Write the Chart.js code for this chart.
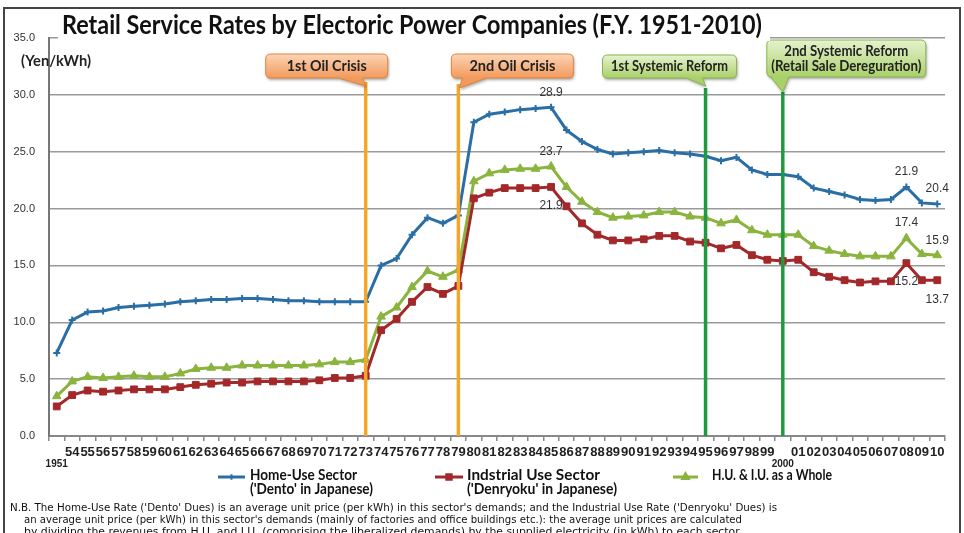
<!DOCTYPE html>
<html>
<head>
<meta charset="utf-8">
<script src="https://cdn.jsdelivr.net/npm/chart.js@4.4.0/dist/chart.umd.min.js"></script>
<style>
  html, body { margin: 0; padding: 0; background: #fff; }
  #wrap { width: 964px; height: 533px; position: relative; overflow: hidden; }
</style>
</head>
<body>
<div id="wrap"><canvas id="chart" width="964" height="533"></canvas></div>
<script>
// fiscal years shown on the axis (1952 and 1953 are not in the source)
const YEARS = [1951, 1954, 1955, 1956, 1957, 1958, 1959, 1960, 1961, 1962, 1963, 1964, 1965, 1966,
  1967, 1968, 1969, 1970, 1971, 1972, 1973, 1974, 1975, 1976, 1977, 1978, 1979, 1980, 1981, 1982,
  1983, 1984, 1985, 1986, 1987, 1988, 1989, 1990, 1991, 1992, 1993, 1994, 1995, 1996, 1997, 1998,
  1999, 2000, 2001, 2002, 2003, 2004, 2005, 2006, 2007, 2008, 2009, 2010];

// Yen/kWh
const HOME_USE = [7.3, 10.2, 10.9, 11.0, 11.3, 11.4, 11.5, 11.6, 11.8, 11.9, 12.0, 12.0, 12.1, 12.1,
  12.0, 11.9, 11.9, 11.8, 11.8, 11.8, 11.8, 15.0, 15.6, 17.7, 19.2, 18.7, 19.4, 27.6, 28.3, 28.5,
  28.7, 28.8, 28.9, 26.9, 25.9, 25.2, 24.8, 24.9, 25.0, 25.1, 24.9, 24.8, 24.6, 24.2, 24.5, 23.4,
  23.0, 23.0, 22.8, 21.8, 21.5, 21.2, 20.8, 20.7, 20.8, 21.9, 20.5, 20.4];
const INDUSTRIAL = [2.6, 3.6, 4.0, 3.9, 4.0, 4.1, 4.1, 4.1, 4.3, 4.5, 4.6, 4.7, 4.7, 4.8,
  4.8, 4.8, 4.8, 4.9, 5.1, 5.1, 5.3, 9.3, 10.3, 11.8, 13.1, 12.5, 13.2, 20.9, 21.4, 21.8,
  21.8, 21.8, 21.9, 20.2, 18.7, 17.7, 17.2, 17.2, 17.3, 17.6, 17.6, 17.1, 17.0, 16.5, 16.8, 15.9,
  15.5, 15.4, 15.5, 14.4, 14.0, 13.7, 13.5, 13.6, 13.6, 15.2, 13.7, 13.7];
const WHOLE = [3.5, 4.8, 5.2, 5.1, 5.2, 5.3, 5.2, 5.2, 5.5, 5.9, 6.0, 6.0, 6.2, 6.2,
  6.2, 6.2, 6.2, 6.3, 6.5, 6.5, 6.7, 10.5, 11.3, 13.1, 14.5, 14.0, 14.6, 22.4, 23.1, 23.4,
  23.5, 23.5, 23.7, 21.9, 20.6, 19.7, 19.2, 19.3, 19.4, 19.7, 19.7, 19.3, 19.2, 18.7, 19.0, 18.1,
  17.7, 17.7, 17.7, 16.7, 16.3, 16.0, 15.8, 15.8, 15.8, 17.4, 16.0, 15.9];

const SERIES_NAMES = [
  ['Home-Use Sector', "('Dento' in Japanese)"],
  ['Indstrial Use Sector', "('Denryoku' in Japanese)"],
  ['H.U. & I.U. as a Whole']
];

const Y_MIN = 0, Y_MAX = 35, Y_STEP = 5;

// full year shown on the second row, others as two digits
const TICK_LABELS = YEARS.map(y => (y === 1951 || y === 2000) ? ['', String(y)] : String(y).slice(2));

const EVENT_YEARS = [1973, 1979, 1995, 2000];
const EVENT_TEXT = [['1st Oil Crisis'], ['2nd Oil Crisis'], ['1st Systemic Reform'],
  ['2nd Systemic Reform', '(Retail Sale Dereguration)']];

// [series index, year] for the printed values
const VALUE_LABELS = [[0, 1985], [2, 1985], [1, 1985], [0, 2008], [2, 2008], [1, 2008],
  [0, 2010], [2, 2010], [1, 2010]];

const TITLE = 'Retail Service Rates by Electoric Power Companies (F.Y. 1951-2010)';
const NOTE = [
  "N.B. The Home-Use Rate ('Dento' Dues) is an average unit price (per kWh) in this sector's demands; and the Industrial Use Rate ('Denryoku' Dues) is",
  "an average unit price (per kWh) in this sector's demands (mainly of factories and office buildings etc.): the average unit prices are calculated",
  "by dividing the revenues from H.U. and I.U. (comprising the liberalized demands) by the supplied electricity (in kWh) to each sector."
];

const BLUE = '#2a6ea6', RED = '#a3282a', GREEN = '#8ab43e';
const ORANGE_LINE = '#f3a62a', GREEN_LINE = '#1f9a3e';
const NARROW = 'Lato, "Open Sans", sans-serif';
const STYLES = [
  { color: BLUE, pointStyle: 'cross', radius: 3.5 },
  { color: RED, pointStyle: 'rect', radius: 4.8 },
  { color: GREEN, pointStyle: 'triangle', radius: 5 }
];

// draws text squeezed / stretched to a given width
function fitText(ctx, text, x, y, w, font, color, align) {
  ctx.save();
  ctx.font = font;
  ctx.fillStyle = color;
  ctx.textBaseline = 'middle';
  ctx.textAlign = 'left';
  const m = ctx.measureText(text).width;
  const s = w ? w / m : 1;
  let x0 = x;
  if (align === 'center') x0 = x - m * s / 2;
  ctx.translate(x0, y);
  ctx.scale(s, 1);
  ctx.fillText(text, 0, 0);
  ctx.restore();
}

// rounded box with a pointer going down to (tipX, tipY)
function callout(ctx, bx, by, bw, bh, p0, p1, tipX, tipY, fillTop, fillBottom, stroke, lines, widths) {
  const r = 5;
  ctx.save();
  ctx.beginPath();
  ctx.moveTo(bx + r, by);
  ctx.lineTo(bx + bw - r, by);
  ctx.quadraticCurveTo(bx + bw, by, bx + bw, by + r);
  ctx.lineTo(bx + bw, by + bh - r);
  ctx.quadraticCurveTo(bx + bw, by + bh, bx + bw - r, by + bh);
  ctx.lineTo(p1, by + bh);
  ctx.lineTo(tipX, tipY);
  ctx.lineTo(p0, by + bh);
  ctx.lineTo(bx + r, by + bh);
  ctx.quadraticCurveTo(bx, by + bh, bx, by + bh - r);
  ctx.lineTo(bx, by + r);
  ctx.quadraticCurveTo(bx, by, bx + r, by);
  ctx.closePath();
  const g = ctx.createLinearGradient(0, by, 0, by + bh);
  g.addColorStop(0, fillTop);
  g.addColorStop(1, fillBottom);
  ctx.shadowColor = 'rgba(0,0,0,0.35)';
  ctx.shadowBlur = 3;
  ctx.shadowOffsetX = 1;
  ctx.shadowOffsetY = 2;
  ctx.fillStyle = g;
  ctx.fill();
  ctx.shadowColor = 'transparent';
  ctx.strokeStyle = stroke;
  ctx.lineWidth = 1;
  ctx.stroke();
  ctx.restore();
  const lh = 15;
  const y0 = by + bh / 2 - (lines.length - 1) * lh / 2;
  lines.forEach((t, i) => fitText(ctx, t, bx + bw / 2, y0 + i * lh, widths[i], 'bold 15px ' + NARROW, '#222', 'center'));
}

const decorations = {
  id: 'decorations',
  beforeDraw(chart) {
    const ctx = chart.ctx;
    ctx.save();
    ctx.fillStyle = '#fff';
    ctx.fillRect(0, 0, chart.width, chart.height);
    ctx.restore();
  },
  afterDatasetsDraw(chart) {
    const ctx = chart.ctx;
    const x = chart.scales.x, y = chart.scales.y;
    const bottom = chart.chartArea.bottom;

    // event lines, over the series
    const lineTop = [82, 84, 88, 92];
    EVENT_YEARS.forEach((yr, i) => {
      const px = x.getPixelForValue(YEARS.indexOf(yr));
      ctx.save();
      ctx.strokeStyle = i < 2 ? ORANGE_LINE : GREEN_LINE;
      ctx.lineWidth = 3.5;
      ctx.beginPath();
      ctx.moveTo(px, lineTop[i]);
      ctx.lineTo(px, bottom);
      ctx.stroke();
      ctx.restore();
    });

    // callouts
    const lx = EVENT_YEARS.map(yr => x.getPixelForValue(YEARS.indexOf(yr)));
    callout(ctx, lx[0] - 100, 54, 122, 24, lx[0] - 27, lx[0] - 3, lx[0], 86,
      '#fcd4b6', '#f29a5c', '#e0853f', EVENT_TEXT[0], [80]);
    callout(ctx, lx[1] - 7, 54, 122, 24, lx[1] + 4, lx[1] + 28, lx[1] + 1, 88,
      '#fcd4b6', '#f29a5c', '#e0853f', EVENT_TEXT[1], [86]);
    callout(ctx, lx[2] - 103, 55, 134, 23, lx[2] - 19, lx[2] - 3, lx[2], 86,
      '#e6f3cf', '#a9d069', '#8ab54e', EVENT_TEXT[2], [117]);
    callout(ctx, lx[3] - 16, 40, 159, 37, lx[3] - 12, lx[3] + 6, lx[3], 92,
      '#e6f3cf', '#a9d069', '#8ab54e', EVENT_TEXT[3], [124, 150]);

    // printed values
    const data = [HOME_USE, INDUSTRIAL, WHOLE];
    VALUE_LABELS.forEach(([s, yr]) => {
      const i = YEARS.indexOf(yr);
      const v = data[s][i];
      const px = x.getPixelForValue(i);
      const py = y.getPixelForValue(v);
      const dy = s === 1 ? 19 : -15;
      ctx.save();
      ctx.font = '12px "Liberation Sans", Arial, sans-serif';
      ctx.fillStyle = '#333';
      ctx.textAlign = 'center';
      ctx.textBaseline = 'middle';
      ctx.fillText(v.toFixed(1), px, py + dy);
      ctx.restore();
    });
  },
  afterDraw(chart) {
    const ctx = chart.ctx;

    // title over a white band
    ctx.save();
    ctx.fillStyle = '#fff';
    ctx.fillRect(58, 11, 712, 30);
    ctx.restore();
    fitText(ctx, TITLE, 62, 25, 700, 'bold 27px ' + NARROW, '#111');
    fitText(ctx, '(Yen/kWh)', 21, 61, 70, 'bold 15px ' + NARROW, '#222');

    // legend
    const legendX = [[218, 245, 250, [107, 123]], [435, 463, 467, [133, 150]], [673, 698, 712, [120]]];
    legendX.forEach(([x1, x2, tx, widths], s) => {
      const st = STYLES[s];
      ctx.save();
      ctx.strokeStyle = st.color;
      ctx.lineWidth = 3;
      ctx.beginPath();
      ctx.moveTo(x1, 477);
      ctx.lineTo(x2, 477);
      ctx.stroke();
      ctx.fillStyle = st.color;
      ctx.lineWidth = 2;
      Chart.helpers.drawPoint(ctx, { pointStyle: st.pointStyle, radius: st.radius * 0.8, borderWidth: 2, rotation: 0 }, (x1 + x2) / 2, 477);
      ctx.restore();
      SERIES_NAMES[s].forEach((t, k) => fitText(ctx, t, tx, 475 + k * 14, widths[k], 'bold 16px ' + NARROW, '#111'));
    });

    // note
    const noteFont = '11px "DejaVu Sans Condensed", "DejaVu Sans", sans-serif';
    fitText(ctx, NOTE[0], 10, 508, 767, noteFont, '#111');
    fitText(ctx, NOTE[1], 24, 520, 718, noteFont, '#111');
    fitText(ctx, NOTE[2], 24, 532, 718, noteFont, '#111');

    // frame
    ctx.save();
    ctx.strokeStyle = '#444';
    ctx.lineWidth = 2;
    ctx.strokeRect(4, 8, 956, 560);
    ctx.restore();
  }
};

const ds = (label, data, st) => ({
  label,
  data,
  borderColor: st.color,
  backgroundColor: st.color,
  pointStyle: st.pointStyle,
  pointRadius: st.radius,
  pointBorderWidth: st.pointStyle === 'cross' ? 2 : 1,
  pointBorderColor: st.color,
  pointBackgroundColor: st.color,
  borderWidth: 3,
  tension: 0,
  fill: false
});

new Chart(document.getElementById('chart'), {
  type: 'line',
  data: {
    labels: TICK_LABELS,
    datasets: [
      ds(SERIES_NAMES[0].join(' '), HOME_USE, STYLES[0]),
      ds(SERIES_NAMES[1].join(' '), INDUSTRIAL, STYLES[1]),
      ds(SERIES_NAMES[2].join(' '), WHOLE, STYLES[2])
    ]
  },
  options: {
    responsive: false,
    animation: false,
    layout: { padding: { top: 38, right: 19, left: 0, bottom: 0 } },
    plugins: {
      legend: { display: false },
      tooltip: { enabled: false },
      title: { display: false }
    },
    scales: {
      x: {
        offset: true,
        grid: { offset: true, drawOnChartArea: false, drawTicks: true, tickLength: 5, color: '#888', lineWidth: 1.5 },
        border: { color: '#888', width: 2 },
        ticks: {
          autoSkip: false,
          maxRotation: 0,
          minRotation: 0,
          padding: 5,
          color: '#222',
          font: (c) => {
            const full = c.index === 0 || c.index === YEARS.indexOf(2000);
            return { family: '"Liberation Sans", Arial, sans-serif', size: full ? 10 : 13, weight: 'bold', lineHeight: '12px' };
          }
        },
        afterFit: (s) => { s.height = 97; }
      },
      y: {
        min: Y_MIN,
        max: Y_MAX,
        ticks: {
          stepSize: Y_STEP,
          callback: (v) => v.toFixed(1),
          padding: 14,
          color: '#333',
          font: { family: '"Liberation Sans", Arial, sans-serif', size: 11 }
        },
        grid: { color: '#9a9a9a', lineWidth: 1.5, drawTicks: false },
        border: { color: '#777', width: 2 },
        afterFit: (s) => { s.width = 49; }
      }
    }
  },
  plugins: [decorations]
});
</script>
</body>
</html>
